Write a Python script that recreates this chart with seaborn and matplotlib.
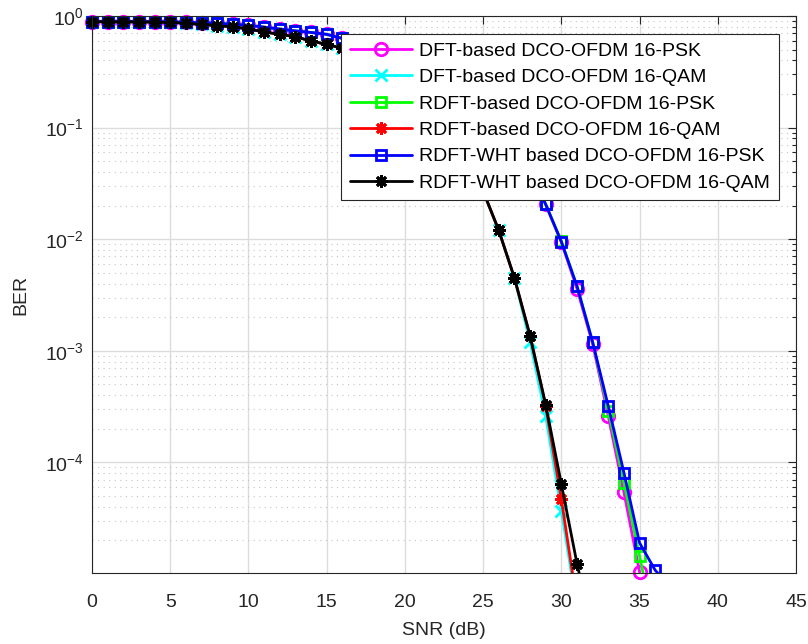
import matplotlib
matplotlib.use("Agg")
import matplotlib.pyplot as plt
import seaborn as sns
from matplotlib.patches import Rectangle
from matplotlib.ticker import LogLocator, NullFormatter, MultipleLocator

# SNR grid in dB (1 dB steps)
snr_db = list(range(0, 38))

# Simulated BER curves
ber_dft_psk = [0.890, 0.889, 0.889, 0.888, 0.887, 0.885, 0.880, 0.870, 0.860, 0.845,
               0.825, 0.795, 0.764, 0.735, 0.712, 0.685, 0.630, 0.590, 0.560, 0.520,
               0.470, 0.420, 0.360, 0.290, 0.220, 0.160, 0.110, 0.070, 0.040, 0.0205,
               0.0094, 0.0036, 0.00115, 2.6e-4, 5.4e-5, 1.04e-5]
ber_dft_qam = [0.890, 0.889, 0.888, 0.886, 0.883, 0.877, 0.860, 0.840, 0.820, 0.800,
               0.764, 0.720, 0.685, 0.652, 0.597, 0.557, 0.513, 0.460, 0.400, 0.330,
               0.260, 0.190, 0.130, 0.085, 0.050, 0.027, 0.012, 0.0045, 0.0012, 2.6e-4,
               3.7e-5, 5.0e-6]
ber_rdft_psk = [0.890, 0.889, 0.889, 0.888, 0.887, 0.885, 0.880, 0.870, 0.860, 0.845,
                0.825, 0.795, 0.764, 0.735, 0.712, 0.685, 0.630, 0.590, 0.560, 0.520,
                0.470, 0.420, 0.360, 0.290, 0.220, 0.160, 0.110, 0.070, 0.040, 0.0205,
                0.0096, 0.0038, 0.0012, 2.9e-4, 6.6e-5, 1.45e-5, 3.0e-6]
ber_rdft_qam = [0.890, 0.889, 0.888, 0.886, 0.883, 0.877, 0.860, 0.840, 0.820, 0.800,
                0.764, 0.720, 0.685, 0.652, 0.597, 0.557, 0.513, 0.460, 0.400, 0.330,
                0.260, 0.190, 0.130, 0.085, 0.050, 0.027, 0.012, 0.0045, 0.00135, 3.2e-4,
                4.7e-5, 5.5e-6]
ber_wht_psk = [0.890, 0.889, 0.889, 0.888, 0.887, 0.885, 0.880, 0.870, 0.860, 0.845,
               0.825, 0.795, 0.764, 0.735, 0.712, 0.685, 0.630, 0.590, 0.560, 0.520,
               0.470, 0.420, 0.360, 0.290, 0.220, 0.160, 0.110, 0.070, 0.040, 0.0205,
               0.0095, 0.0038, 0.0012, 3.2e-4, 8.1e-5, 1.9e-5, 1.08e-5, 7.5e-6]
ber_wht_qam = [0.890, 0.889, 0.888, 0.886, 0.883, 0.877, 0.860, 0.840, 0.820, 0.800,
               0.764, 0.720, 0.685, 0.652, 0.597, 0.557, 0.513, 0.460, 0.400, 0.330,
               0.260, 0.190, 0.130, 0.085, 0.050, 0.027, 0.012, 0.0045, 0.00137, 3.3e-4,
               6.4e-5, 1.24e-5, 3.0e-6]

labels = ["DFT-based DCO-OFDM 16-PSK",
          "DFT-based DCO-OFDM 16-QAM",
          "RDFT-based DCO-OFDM 16-PSK",
          "RDFT-based DCO-OFDM 16-QAM",
          "RDFT-WHT based DCO-OFDM 16-PSK",
          "RDFT-WHT based DCO-OFDM 16-QAM"]
series = [ber_dft_psk, ber_dft_qam, ber_rdft_psk, ber_rdft_qam, ber_wht_psk, ber_wht_qam]
colors = ["#FF00FF", "#00FFFF", "#00FF00", "#FF0000", "#0000FF", "#000000"]
asterisk = (8, 2, 0)
markers = ["o", "x", "s", asterisk, "s", asterisk]
msizes = [9, 8, 7.5, 9, 7.5, 9]

sns.set_theme(style="white")
plt.rcParams["font.family"] = ["Liberation Sans", "DejaVu Sans"]
plt.rcParams["axes.unicode_minus"] = False
text_col = "#262626"
fs = 14

fig = plt.figure(figsize=(8.08, 6.44), dpi=100)
ax = fig.add_axes([92 / 808, 1 - 573 / 644, (796 - 92) / 808, (573 - 16) / 644])
ax.set_yscale("log")

for lab, ber, col, mk, ms in zip(labels, series, colors, markers, msizes):
    sns.lineplot(x=snr_db[:len(ber)], y=ber, ax=ax, color=col, linewidth=2,
                 marker=mk, markersize=ms, markerfacecolor="none",
                 markeredgecolor=col, markeredgewidth=2,
                 estimator=None, sort=False, label=lab)

# clip curves only at the bottom edge so markers on the other edges stay whole
clip_rect = Rectangle((-0.05, 0.0), 1.1, 1.1, transform=ax.transAxes)
for i, line in enumerate(ax.get_lines()[:len(series)]):
    if i == 0:
        line.set_clip_on(False)
    else:
        line.set_clip_path(clip_rect)

ax.set_xlim(0, 45)
ax.set_ylim(1.02e-5, 1)
ax.xaxis.set_major_locator(MultipleLocator(5))
ax.yaxis.set_major_locator(LogLocator(base=10, numticks=10))
ax.yaxis.set_minor_locator(LogLocator(base=10, subs=range(2, 10), numticks=20))
ax.yaxis.set_minor_formatter(NullFormatter())

ax.grid(True, which="major", axis="both", color="#dcdcdc", linewidth=1.0, linestyle="-")
ax.grid(True, which="minor", axis="y", color="#c4c4c4", linewidth=0.8,
        linestyle=(0, (1, 4)))
ax.set_axisbelow(True)

ax.tick_params(which="both", direction="in", top=True, right=True,
               color=text_col, width=0.8)
ax.tick_params(which="major", length=6, labelsize=fs, labelcolor=text_col)
ax.tick_params(axis="x", which="major", pad=15)
ax.tick_params(axis="y", which="major", pad=6)
ax.tick_params(axis="x", which="minor", bottom=False, top=False)
ax.tick_params(axis="y", which="minor", length=3)
for sp in ax.spines.values():
    sp.set_color(text_col)
    sp.set_linewidth(0.8)

ax.set_xlabel("SNR (dB)", fontsize=fs, color=text_col, labelpad=8)
ax.set_ylabel("BER", fontsize=fs, color=text_col, labelpad=11)

leg = ax.legend(loc="upper right", fontsize=fs, frameon=True, fancybox=False,
                framealpha=1, edgecolor=text_col, borderaxespad=0.9,
                handlelength=3.2, handletextpad=0.35, labelspacing=0.45,
                borderpad=0.45)
leg.get_frame().set_linewidth(0.8)
for t in leg.get_texts():
    t.set_color("black")

fig.savefig("out.png", dpi=100, facecolor="white")
